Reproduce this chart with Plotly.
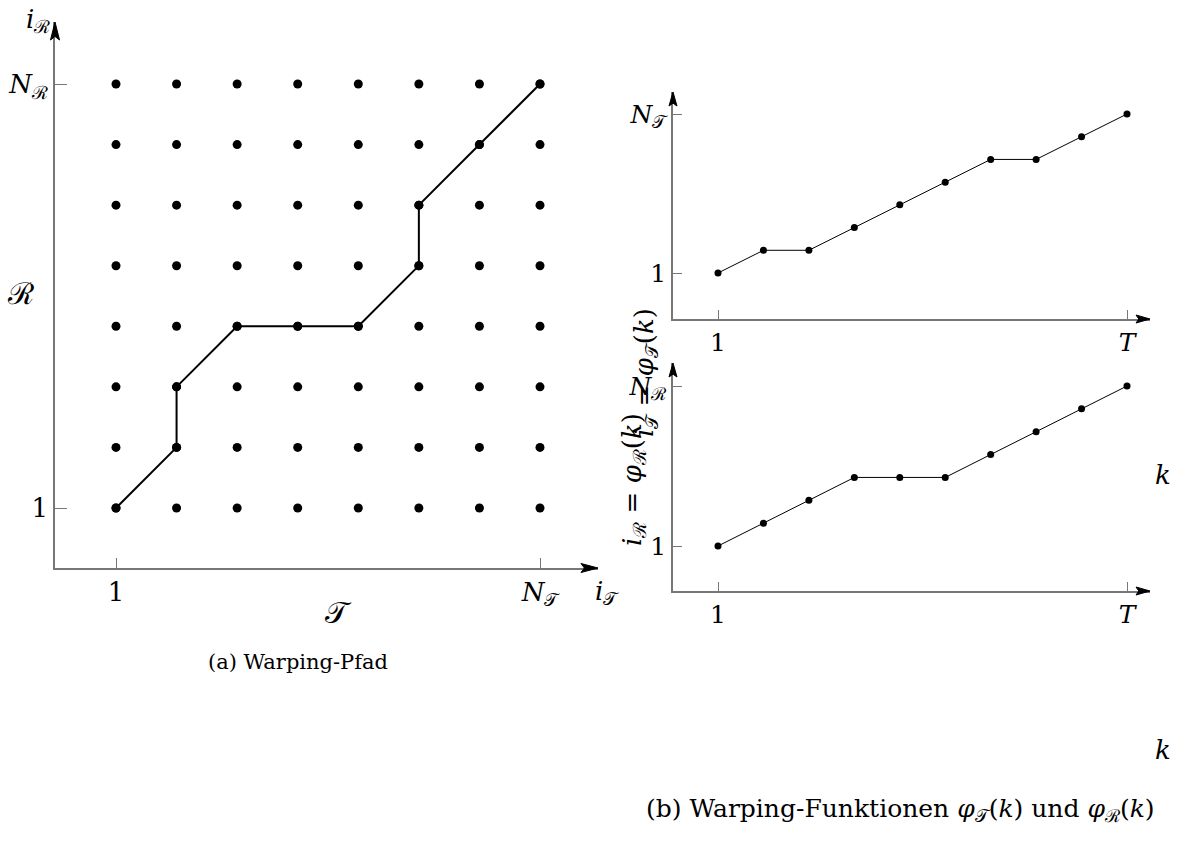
import plotly.graph_objects as go

# ---------------- data ----------------
grid_t = [1, 2, 3, 4, 5, 6, 7, 8]          # i_T grid indices
grid_r = [1, 2, 3, 4, 5, 6, 7, 8]          # i_R grid indices
path_t = [1, 2, 2, 3, 4, 5, 6, 6, 7, 8]    # warping path, i_T
path_r = [1, 2, 3, 4, 4, 4, 5, 6, 7, 8]    # warping path, i_R
k_vals = [1, 2, 3, 4, 5, 6, 7, 8, 9, 10]
phi_t = [1, 2, 2, 3, 4, 5, 6, 6, 7, 8]
phi_r = [1, 2, 3, 4, 4, 4, 5, 6, 7, 8]

CAL_R = "ℛ"
CAL_T = "𝒯"

W, H = 1179, 861
FONT = "DejaVu Serif"
AX_COL = "#777777"


def px(x):
    return x / W


def py(y):
    return 1 - y / H


def rng(p0, v0, p1, v1, a, b):
    # value range whose ends land on pixels a and b, given v0->p0, v1->p1
    s = (v1 - v0) / (p1 - p0)
    return [v0 + (a - p0) * s, v0 + (b - p0) * s]


fig = go.Figure()

# ---- left panel: grid + path ----
gx = [t for r in grid_r for t in grid_t]
gy = [r for r in grid_r for t in grid_t]
fig.add_trace(go.Scatter(x=gx, y=gy, mode="markers",
                         marker=dict(size=9, color="black"),
                         xaxis="x", yaxis="y", hoverinfo="skip"))
fig.add_trace(go.Scatter(x=path_t, y=path_r, mode="lines+markers",
                         line=dict(color="black", width=2),
                         marker=dict(size=9, color="black"),
                         xaxis="x", yaxis="y"))

# ---- right top ----
fig.add_trace(go.Scatter(x=k_vals, y=phi_t, mode="lines+markers",
                         line=dict(color="black", width=1),
                         marker=dict(size=7, color="black"),
                         xaxis="x2", yaxis="y2"))
# ---- right bottom ----
fig.add_trace(go.Scatter(x=k_vals, y=phi_r, mode="lines+markers",
                         line=dict(color="black", width=1),
                         marker=dict(size=7, color="black"),
                         xaxis="x3", yaxis="y3"))

common = dict(showline=True, linecolor=AX_COL, linewidth=1.5, ticks="inside",
              tickcolor=AX_COL, tickwidth=1.2, showgrid=False, zeroline=False,
              tickfont=dict(family=FONT, size=26, color="black"))

# left panel geometry (pixels)
L_x0, L_x1, L_y0, L_y1 = 55, 598, 568, 22
fig.update_layout(
    xaxis=dict(domain=[px(L_x0), px(L_x1)], anchor="y",
               range=rng(116, 1, 540, 8, L_x0, L_x1),
               tickvals=[1, 8], ticktext=["1", "<i>N</i><sub>" + CAL_T + "</sub>"],
               ticklen=10, **common),
    yaxis=dict(domain=[py(L_y0), py(L_y1)], anchor="x",
               range=rng(508, 1, 84, 8, L_y0, L_y1),
               tickvals=[1, 8], ticktext=["1", "<i>N</i><sub>" + CAL_R + "</sub>"],
               ticklen=12, **common),
)

R_x0, R_x1 = 673, 1150
T_y0, T_y1 = 319, 92
B_y0, B_y1 = 591, 363
small = dict(common)
small["tickfont"] = dict(family=FONT, size=25, color="black")
fig.update_layout(
    xaxis2=dict(domain=[px(R_x0), px(R_x1)], anchor="y2",
                range=rng(718, 1, 1127, 10, R_x0, R_x1),
                tickvals=[1, 10], ticktext=["1", "<i>T</i>"], ticklen=9, **small),
    yaxis2=dict(domain=[py(T_y0), py(T_y1)], anchor="x2",
                range=rng(273, 1, 114, 8, T_y0, T_y1),
                tickvals=[1, 8], ticktext=["1", "<i>N</i><sub>" + CAL_T + "</sub>"],
                ticklen=9, **small),
    xaxis3=dict(domain=[px(R_x0), px(R_x1)], anchor="y3",
                range=rng(718, 1, 1127, 10, R_x0, R_x1),
                tickvals=[1, 10], ticktext=["1", "<i>T</i>"], ticklen=9, **small),
    yaxis3=dict(domain=[py(B_y0), py(B_y1)], anchor="x3",
                range=rng(546, 1, 386, 8, B_y0, B_y1),
                tickvals=[1, 8], ticktext=["1", "<i>N</i><sub>" + CAL_R + "</sub>"],
                ticklen=9, **small),
)

# arrowheads as path shapes (paper coordinates)
shapes = []


def arrow_right(xt, y, ln, hw):
    return dict(type="path", xref="paper", yref="paper",
                path=f"M {px(xt)},{py(y)} L {px(xt-ln)},{py(y-hw)} L {px(xt-ln*0.8)},{py(y)} L {px(xt-ln)},{py(y+hw)} Z",
                fillcolor="black", line=dict(color="black", width=1))


def arrow_up(x, yt, ln, hw):
    return dict(type="path", xref="paper", yref="paper",
                path=f"M {px(x)},{py(yt)} L {px(x-hw)},{py(yt+ln)} L {px(x)},{py(yt+ln*0.8)} L {px(x+hw)},{py(yt+ln)} Z",
                fillcolor="black", line=dict(color="black", width=1))


shapes.append(arrow_right(L_x1, L_y0, 17, 4.5))
shapes.append(arrow_up(L_x0, L_y1, 18, 4.5))
shapes.append(arrow_right(R_x1, T_y0, 14, 4))
shapes.append(arrow_up(R_x0, T_y1, 14, 4))
shapes.append(arrow_right(R_x1, B_y0, 14, 4))
shapes.append(arrow_up(R_x0, B_y1, 14, 4))

ann = []


def text(x, y, s, size=26, angle=0):
    ann.append(dict(x=px(x), y=py(y), xref="paper", yref="paper", text=s,
                    showarrow=False, textangle=angle, xanchor="center", yanchor="middle",
                    font=dict(family=FONT, size=size, color="black")))


text(38, 20, "<i>i</i><sub>" + CAL_R + "</sub>")
text(607, 592, "<i>i</i><sub>" + CAL_T + "</sub>")
text(20, 293, CAL_R, size=30)
text(338, 612, CAL_T, size=30)
text(298, 662, "(a) Warping-Pfad", size=21)
text(1163, 475, "<i>k</i>")
text(1163, 750, "<i>k</i>")
text(645, 372, "<i>i</i><sub>" + CAL_T + "</sub> = <i>φ</i><sub>" + CAL_T + "</sub>(<i>k</i>)", size=26, angle=-90)
text(633, 480, "<i>i</i><sub>" + CAL_R + "</sub> = <i>φ</i><sub>" + CAL_R + "</sub>(<i>k</i>)", size=26, angle=-90)
text(900, 810, "(b) Warping-Funktionen <i>φ</i><sub>" + CAL_T + "</sub>(<i>k</i>) und <i>φ</i><sub>" + CAL_R + "</sub>(<i>k</i>)", size=25)

fig.update_layout(width=W, height=H, margin=dict(l=0, r=0, t=0, b=0),
                  paper_bgcolor="white", plot_bgcolor="white", showlegend=False,
                  shapes=shapes, annotations=ann,
                  font=dict(family=FONT, color="black"))

fig.write_html("out.html")
